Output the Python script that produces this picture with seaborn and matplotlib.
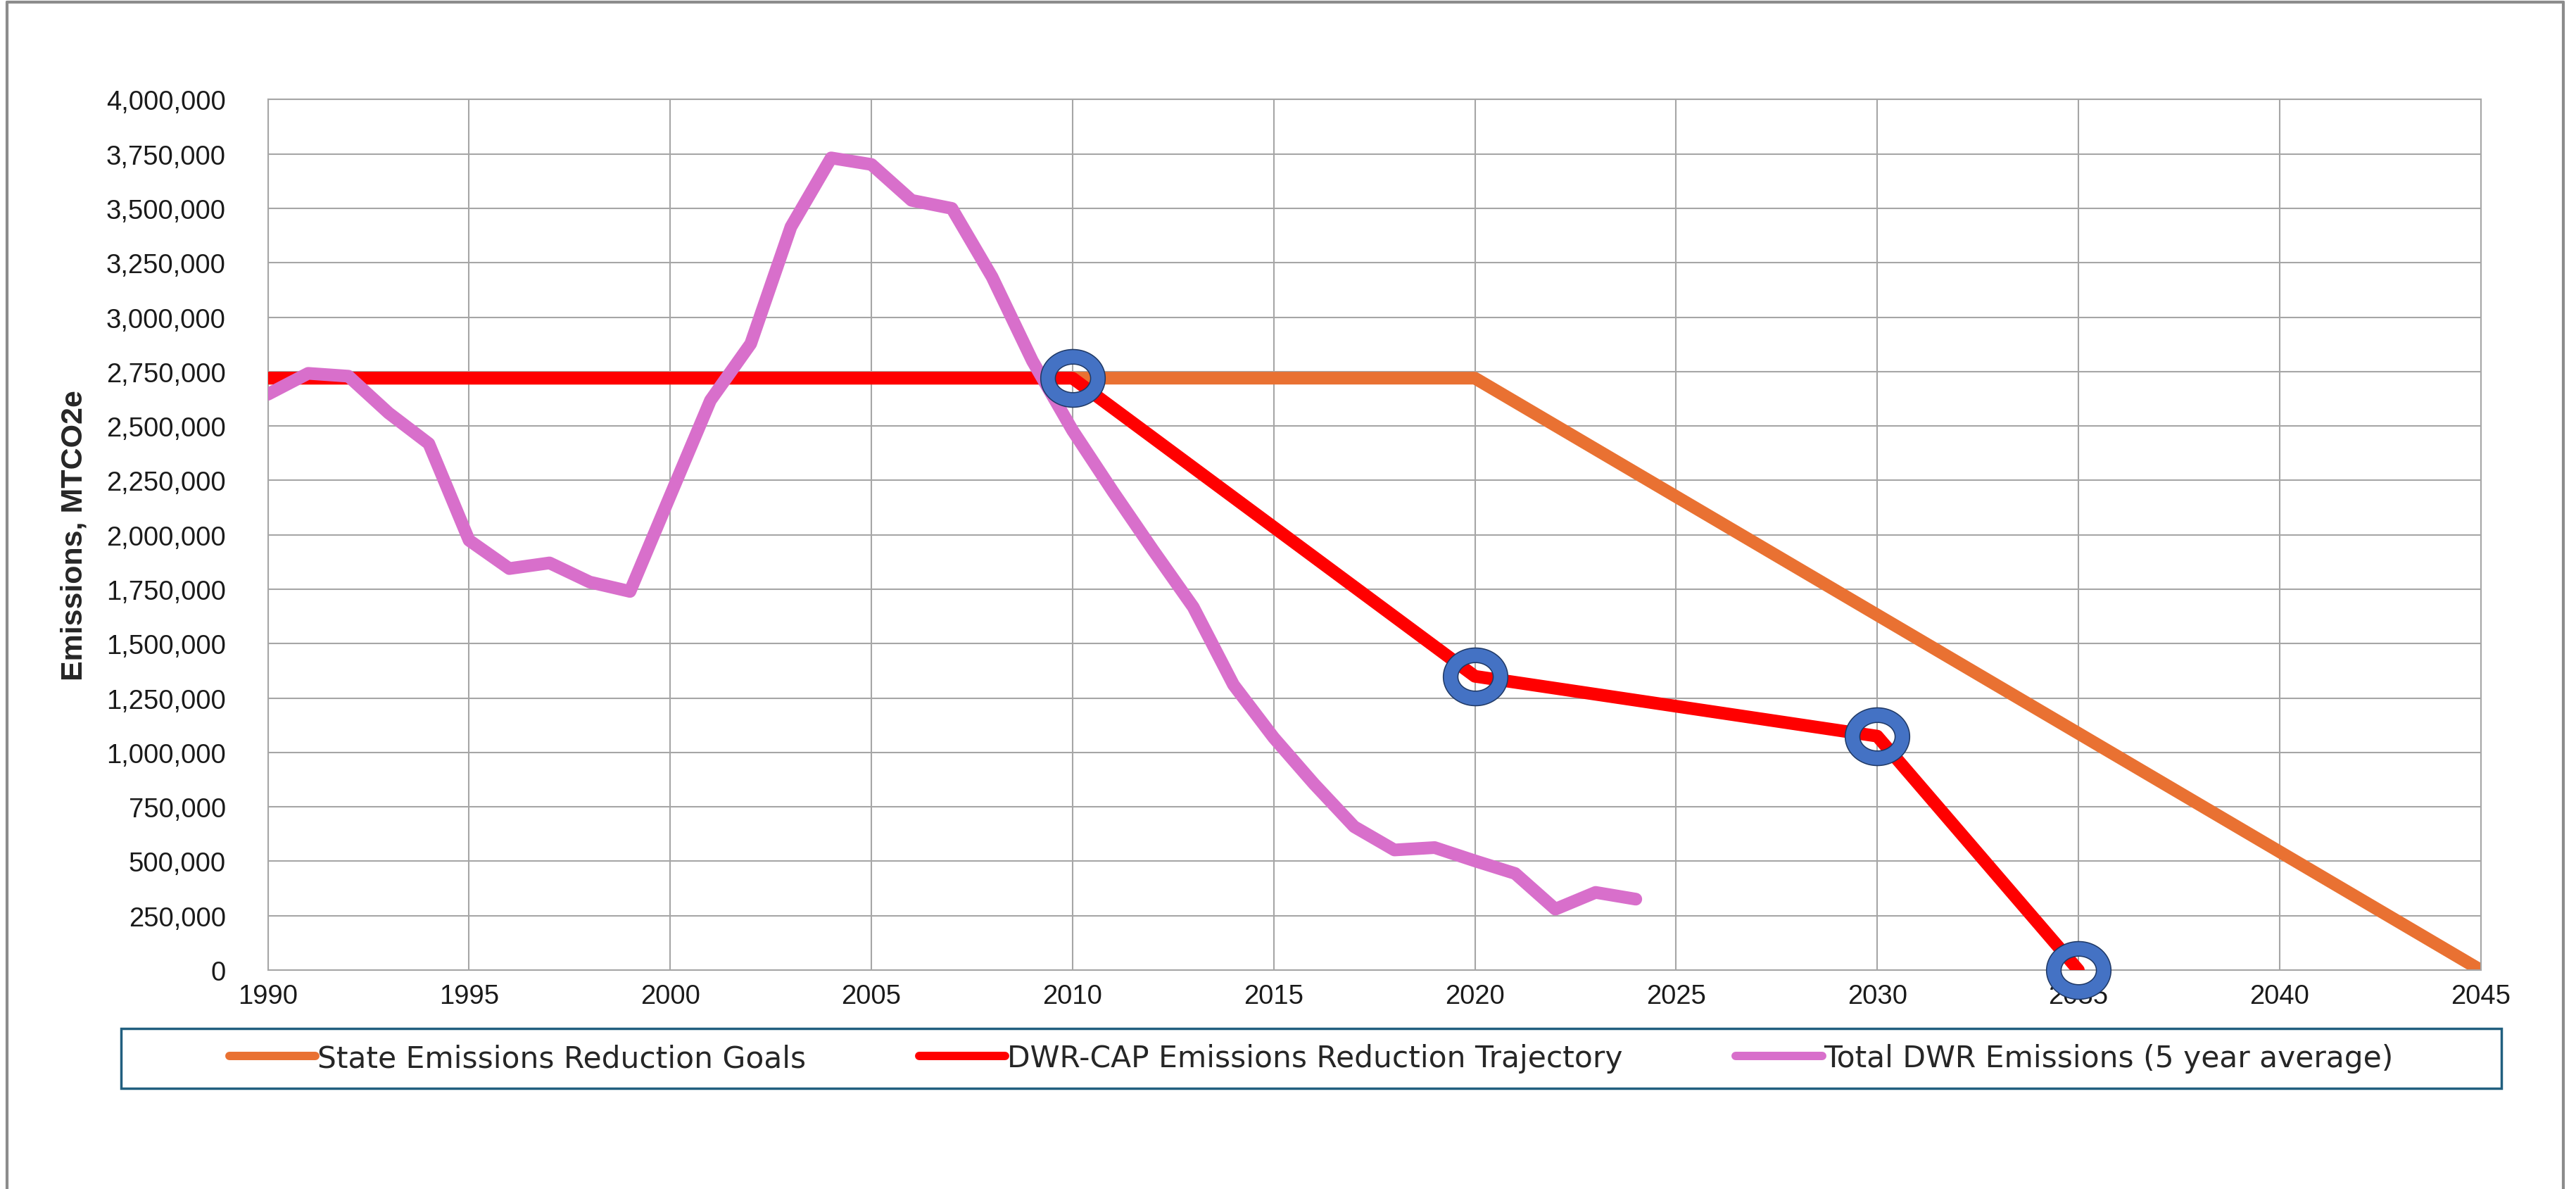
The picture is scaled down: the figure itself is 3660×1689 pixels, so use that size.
import numpy as np
import matplotlib
matplotlib.use("Agg")
import matplotlib.pyplot as plt
import seaborn as sns
from matplotlib.path import Path
from matplotlib.patches import Rectangle
from matplotlib.lines import Line2D
from matplotlib.ticker import FuncFormatter
from matplotlib import font_manager

# values
state_years = [1990, 2010, 2020, 2045]
state_goals = [2720000, 2720000, 2720000, 0]

cap_years = [1990, 2010, 2020, 2030, 2035]
cap_trajectory = [2720000, 2720000, 1350000, 1075000, 0]

milestone_years = [2010, 2020, 2030, 2035]
milestone_values = [2720000, 1350000, 1075000, 0]

dwr_years = list(range(1990, 2025))
dwr_emissions = [2646000, 2742000, 2729000, 2560000, 2419000,
                 1975000, 1845000, 1871000, 1783000, 1740000,
                 2180000, 2618000, 2878000, 3415000, 3732000,
                 3702000, 3537000, 3500000, 3185000, 2800000,
                 2480000, 2200000, 1930000, 1668000, 1311000,
                 1068000, 856000, 659000, 552000, 563000,
                 502000, 444000, 280000, 357000, 326000]

x_ticks = list(range(1990, 2046, 5))
y_ticks = list(range(0, 4000001, 250000))

labels = ["State Emissions Reduction Goals",
          "DWR-CAP Emissions Reduction Trajectory",
          "Total DWR Emissions (5 year average)"]
colors = ["#E97132", "#FF0000", "#D86FCB"]

sns.set_style("white")
names = {f.name for f in font_manager.fontManager.ttflist}
narrow = "Liberation Sans Narrow" if "Liberation Sans Narrow" in names else "Liberation Sans"
plt.rcParams["font.family"] = ["Liberation Sans", "DejaVu Sans"]


def ring_marker(rx_in=0.547, ry_in=0.442, ry_out=0.895, n=120):
    # elliptical donut used for the milestone markers
    t = np.linspace(0, 2 * np.pi, n)
    outer = np.column_stack([np.cos(t), ry_out * np.sin(t)])
    inner = np.column_stack([rx_in * np.cos(t[::-1]), ry_in * np.sin(t[::-1])])
    codes = ([Path.MOVETO] + [Path.LINETO] * (n - 2) + [Path.CLOSEPOLY]) * 2
    return Path(np.concatenate([outer, inner]), codes)


fig = plt.figure(figsize=(36.6, 16.9), dpi=100)
ax = fig.add_axes([0.1040, 0.1840, 0.8590, 0.7317])

lw = 13
sns.lineplot(x=state_years, y=state_goals, color=colors[0], linewidth=lw,
             ax=ax, zorder=2, solid_capstyle="round", solid_joinstyle="round")
sns.lineplot(x=cap_years, y=cap_trajectory, color=colors[1], linewidth=lw,
             ax=ax, zorder=3, solid_capstyle="round", solid_joinstyle="round")
sns.lineplot(x=dwr_years, y=dwr_emissions, color=colors[2], linewidth=lw,
             ax=ax, zorder=4, solid_capstyle="round", solid_joinstyle="round")
ax.plot(milestone_years, milestone_values, linestyle="none", marker=ring_marker(),
        markersize=66, markerfacecolor="#4472C4", markeredgecolor="#1F3864",
        markeredgewidth=1.1, zorder=5, clip_on=False)

ax.set_xlim(1990, 2045)
ax.set_ylim(0, 4000000)
ax.set_xticks(x_ticks)
ax.set_yticks(y_ticks)
ax.yaxis.set_major_formatter(FuncFormatter(lambda v, p: f"{v:,.0f}"))
ax.grid(True, color="#A6A6A6", linewidth=1.5, zorder=0)
ax.set_axisbelow(True)
for s in ax.spines.values():
    s.set_color("#A6A6A6")
    s.set_linewidth(1.5)
ax.tick_params(axis="both", direction="out", length=11, width=1.5,
               color="#A6A6A6", labelsize=27.5, labelcolor="#1a1a1a")
ax.tick_params(axis="x", pad=3)
ax.tick_params(axis="y", pad=32)
ax.set_xlabel("")
ax.set_ylabel("")
if ax.get_legend() is not None:
    ax.get_legend().remove()

fig.text(106 / 3660, 1 - 761 / 1690, "Emissions, MTCO2e", rotation=90,
         ha="center", va="center", fontsize=31, fontweight="bold",
         family=[narrow, "DejaVu Sans"])

# legend box and entries
fig.add_artist(Rectangle((0.0470, 0.0846), 0.9240, 0.0503, transform=fig.transFigure,
                         fill=False, edgecolor="#215F7F", linewidth=2.5))
handles = [Line2D([], [], color=c, linewidth=8.6, solid_capstyle="round") for c in colors]
fig.legend(handles, labels, loc="center", bbox_to_anchor=(0.509, 0.110), ncol=3,
           frameon=False, handlelength=2.9, handletextpad=0.05, columnspacing=3.8,
           prop={"family": ["DejaVu Sans"], "size": 30.5})

# outer chart frame (left, top, right)
frame = dict(transform=fig.transFigure, color="#8C8C8C", linewidth=3)
fig.add_artist(Line2D([0.0027, 0.0027], [0, 0.9976], **frame))
fig.add_artist(Line2D([0.0027, 0.9951], [0.9976, 0.9976], **frame))
fig.add_artist(Line2D([0.9951, 0.9951], [0, 0.9976], **frame))

fig.savefig("out.png", dpi=100)
